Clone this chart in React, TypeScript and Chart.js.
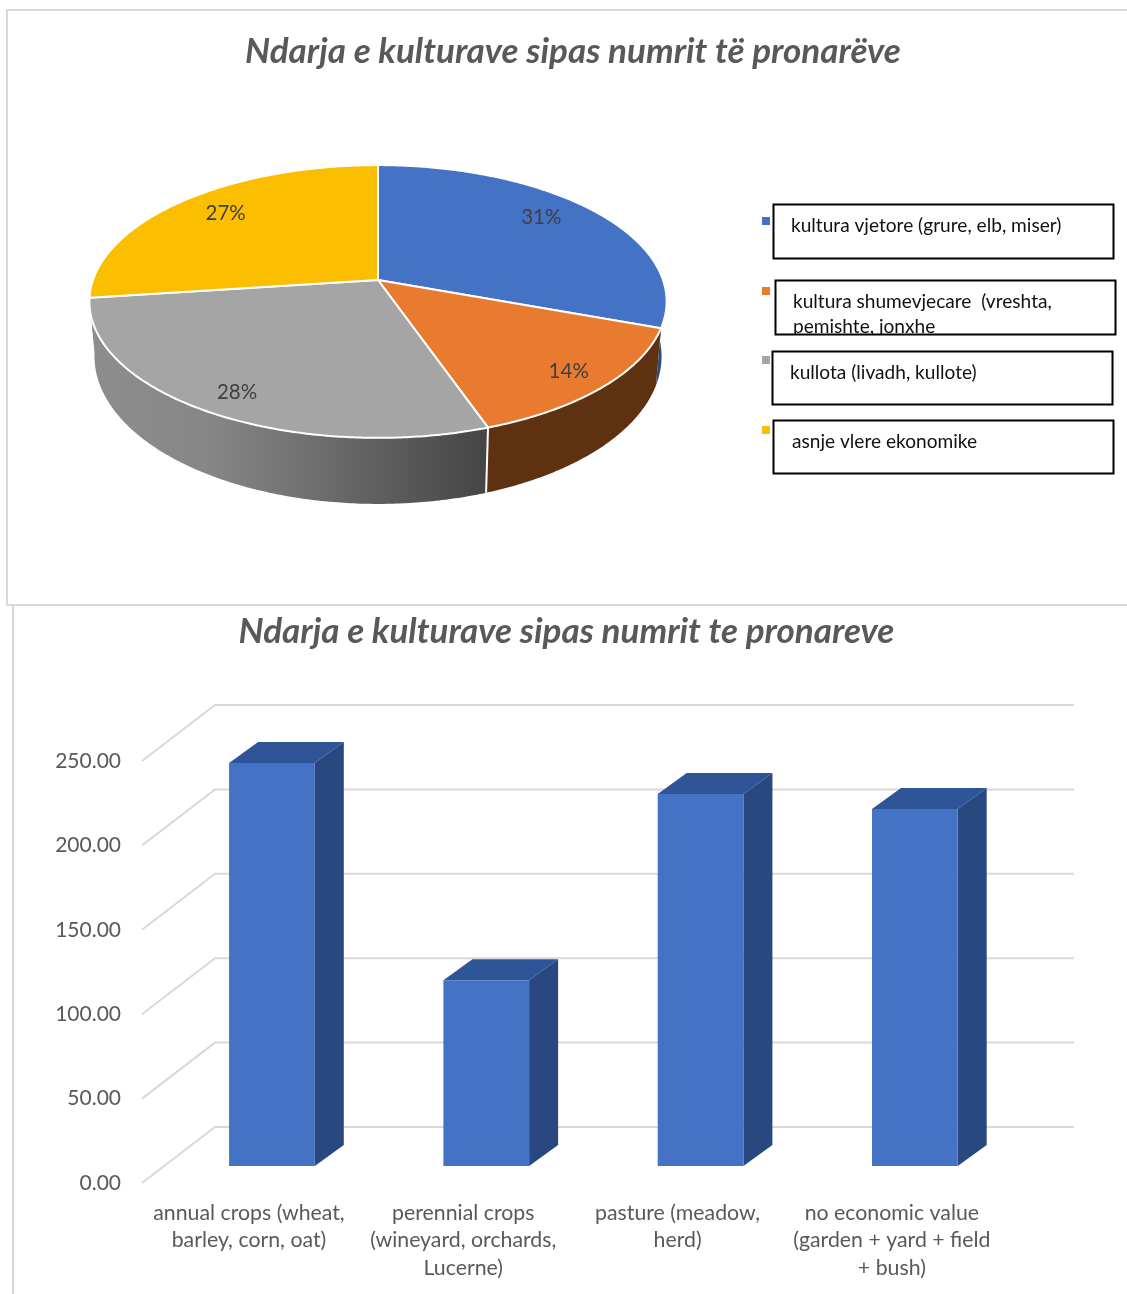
import React, { useEffect, useRef } from "react";
import { Chart, registerables } from "chart.js";

Chart.register(...registerables);

const pieTitle = "Ndarja e kulturave sipas numrit të pronarëve";
const barTitle = "Ndarja e kulturave sipas numrit te pronareve";

const pieLegendLines = [
  ["kultura vjetore (grure, elb, miser)"],
  ["kultura shumevjecare  (vreshta,", "pemishte, jonxhe"],
  ["kullota (livadh, kullote)"],
  ["asnje vlere ekonomike"],
];
const pieValues = [238.7, 110, 220.4, 211.5];
const pieColors = ["#4472c4", "#e97b30", "#a5a5a5", "#fcbe00"];
const pieWallColors = ["#2b4a82", "#5e3210", "#777777", "#8d8d8d"];

const barCategories = [
  ["annual crops (wheat,", "barley, corn, oat)"],
  ["perennial crops", "(wineyard, orchards,", "Lucerne)"],
  ["pasture (meadow,", "herd)"],
  ["no economic value", "(garden + yard + field", "+ bush)"],
];
const barValues = [238.7, 110, 220.4, 211.5];

const FONT = "Lato, Carlito, sans-serif";
const TEXT = "#595959";

// perspective of the pie
const P = { cx: 378, cy: 280, a: 285, b: 133, k: 0.1575, a2: 280, b2: 144, d: 53 };
const topPt = (t: number, f = 1) => {
  const u = -Math.cos(t) * f;
  const s = Math.sin(t) * f;
  const den = 1 - P.k * u;
  return [P.cx + (P.a * s) / den, P.cy + (P.b * u) / den];
};
const lowPt = (t: number) => {
  const u = -Math.cos(t);
  const s = Math.sin(t);
  const den = 1 - P.k * u;
  return [P.cx + (P.a2 * s) / den, P.cy + P.d + (P.b2 * u) / den];
};
const sweep = (a: number, b: number) => {
  const n = Math.max(4, Math.ceil((b - a) / 0.01));
  const r: number[] = [];
  for (let i = 0; i <= n; i++) r.push(a + ((b - a) * i) / n);
  return r;
};

const legendBoxes = [
  { x: 773.5, y: 204.5, w: 340, h: 54, tx: 791, ty: 226, sy: 221 },
  { x: 775.5, y: 280.5, w: 340, h: 54, tx: 793, ty: 302, sy: 291 },
  { x: 772.5, y: 351.5, w: 340, h: 53, tx: 790, ty: 373, sy: 360 },
  { x: 773.5, y: 420.5, w: 340, h: 53, tx: 792, ty: 442, sy: 430 },
];
const labelNudge = [
  [-11, -6],
  [15, 8],
  [-7, 11],
  [6, -2],
];

const pie3d = {
  id: "pie3d",
  beforeDatasetDraw(chart: any) {
    const { ctx } = chart;
    const arcs = chart.getDatasetMeta(0).data;
    const angles = arcs.map((e: any) => [e.startAngle + Math.PI / 2, e.endAngle + Math.PI / 2]);
    ctx.save();
    // side wall
    angles.forEach(([s, e]: number[], i: number) => {
      ctx.beginPath();
      sweep(s, e).forEach((t, j) => {
        const [x, y] = topPt(t);
        j ? ctx.lineTo(x, y) : ctx.moveTo(x, y);
      });
      sweep(s, e)
        .reverse()
        .forEach((t) => {
          const [x, y] = lowPt(t);
          ctx.lineTo(x, y);
        });
      ctx.closePath();
      if (i === 2) {
        const g = ctx.createLinearGradient(96, 0, 486, 0);
        g.addColorStop(0, "#8d8d8d");
        g.addColorStop(0.3, "#868686");
        g.addColorStop(0.65, "#666666");
        g.addColorStop(1, "#454545");
        ctx.fillStyle = g;
      } else {
        ctx.fillStyle = pieWallColors[i];
      }
      ctx.fill();
    });
    // seams on the front of the wall
    ctx.strokeStyle = "#ffffff";
    ctx.lineWidth = 2;
    angles.forEach(([s]: number[], i: number) => {
      if (i !== 2) return;
      const [x1, y1] = topPt(s);
      const [x2, y2] = lowPt(s);
      ctx.beginPath();
      ctx.moveTo(x1, y1);
      ctx.lineTo(x2, y2);
      ctx.stroke();
    });
    // top face
    ctx.lineJoin = "round";
    angles.forEach(([s, e]: number[], i: number) => {
      ctx.beginPath();
      ctx.moveTo(P.cx, P.cy);
      sweep(s, e).forEach((t) => {
        const [x, y] = topPt(t);
        ctx.lineTo(x, y);
      });
      ctx.closePath();
      ctx.fillStyle = pieColors[i];
      ctx.fill();
      ctx.stroke();
    });
    // value labels
    const total = chart.data.datasets[0].data.reduce((a: number, b: number) => a + b, 0);
    ctx.font = `20.5px ${FONT}`;
    ctx.fillStyle = "#404040";
    ctx.textAlign = "center";
    ctx.textBaseline = "middle";
    angles.forEach(([s, e]: number[], i: number) => {
      const [x, y] = topPt((s + e) / 2, 0.8);
      const v = Math.round((chart.data.datasets[0].data[i] / total) * 100);
      ctx.fillText(`${v}%`, x + labelNudge[i][0], y + labelNudge[i][1]);
    });
    ctx.restore();
    return false;
  },
  afterDraw(chart: any) {
    const { ctx } = chart;
    ctx.save();
    legendBoxes.forEach((b, i) => {
      ctx.fillStyle = pieColors[i];
      ctx.fillRect(762, b.sy - 4, 8, 8);
      ctx.save();
      ctx.beginPath();
      ctx.rect(b.x, b.y, b.w, b.h);
      ctx.clip();
      ctx.font = `19.1px ${FONT}`;
      ctx.fillStyle = "#111111";
      ctx.textAlign = "left";
      ctx.textBaseline = "middle";
      chart.data.labels[i].forEach((line: string, j: number) => {
        ctx.fillText(line, b.tx, b.ty + j * 25);
      });
      ctx.restore();
      ctx.strokeStyle = "#000000";
      ctx.lineWidth = 2;
      ctx.strokeRect(b.x, b.y, b.w, b.h);
    });
    ctx.restore();
  },
};

const DEPTH = { dx: 29, dy: -21, frontX: 142, backX: 215, frontDy: 17, backDy: -39, endX: 1074 };

const bar3d = {
  id: "bar3d",
  beforeDatasetsDraw(chart: any) {
    const { ctx } = chart;
    const y = chart.scales.y;
    ctx.save();
    ctx.strokeStyle = "#d9d9d9";
    ctx.lineWidth = 2;
    y.ticks.forEach((t: any) => {
      const py = y.getPixelForValue(t.value);
      ctx.beginPath();
      ctx.moveTo(DEPTH.frontX, py + DEPTH.frontDy);
      ctx.lineTo(DEPTH.backX, py + DEPTH.backDy);
      ctx.lineTo(DEPTH.endX, py + DEPTH.backDy);
      ctx.stroke();
    });
    chart.getDatasetMeta(0).data.forEach((b: any) => {
      const l = b.x - b.width / 2;
      const r = b.x + b.width / 2;
      ctx.fillStyle = "#2e5597";
      ctx.beginPath();
      ctx.moveTo(l, b.y);
      ctx.lineTo(l + DEPTH.dx, b.y + DEPTH.dy);
      ctx.lineTo(r + DEPTH.dx, b.y + DEPTH.dy);
      ctx.lineTo(r, b.y);
      ctx.closePath();
      ctx.fill();
      ctx.fillStyle = "#29487f";
      ctx.beginPath();
      ctx.moveTo(r, b.y);
      ctx.lineTo(r + DEPTH.dx, b.y + DEPTH.dy);
      ctx.lineTo(r + DEPTH.dx, b.base + DEPTH.dy);
      ctx.lineTo(r, b.base);
      ctx.closePath();
      ctx.fill();
    });
    ctx.restore();
  },
};

export default function App() {
  const pieRef = useRef<HTMLCanvasElement>(null);
  const barRef = useRef<HTMLCanvasElement>(null);

  useEffect(() => {
    const pie = new Chart(pieRef.current!, {
      type: "pie",
      plugins: [pie3d],
      data: {
        labels: pieLegendLines as any,
        datasets: [{ data: pieValues, backgroundColor: pieColors }],
      },
      options: {
        animation: false,
        responsive: false,
        devicePixelRatio: 1,
        events: [],
        layout: { padding: { left: 19, right: 0 } },
        plugins: {
          legend: { display: false },
          tooltip: { enabled: false },
          title: {
            display: true,
            text: pieTitle,
            color: TEXT,
            font: { family: FONT, size: 35, weight: "bold", style: "italic", lineHeight: 1.2 },
            padding: { top: 31, bottom: 20 },
          },
        },
      },
    } as any);

    const bar = new Chart(barRef.current!, {
      type: "bar",
      plugins: [bar3d],
      data: {
        labels: barCategories as any,
        datasets: [
          {
            data: barValues,
            backgroundColor: "#4472c4",
            barPercentage: 0.4,
            categoryPercentage: 1,
          },
        ],
      },
      options: {
        animation: false,
        responsive: false,
        devicePixelRatio: 1,
        events: [],
        layout: { padding: { left: 6, right: 0, top: 0, bottom: 0 } },
        plugins: {
          legend: { display: false },
          tooltip: { enabled: false },
          title: {
            display: true,
            text: barTitle,
            color: TEXT,
            font: { family: FONT, size: 35, weight: "bold", style: "italic", lineHeight: 1.2 },
            padding: { top: 7, bottom: 91 },
          },
        },
        scales: {
          y: {
            min: 0,
            max: 250,
            afterFit: (s: any) => {
              s.width = 158.8;
            },
            grid: { display: false, drawTicks: false },
            border: { display: false },
            ticks: {
              stepSize: 50,
              padding: 43.8,
              labelOffset: 17,
              color: TEXT,
              font: { family: FONT, size: 21 },
              callback: (v: any) => Number(v).toFixed(2),
            },
          },
          rightGutter: {
            type: "linear",
            position: "right",
            display: true,
            afterFit: (s: any) => {
              s.width = 105;
            },
            grid: { display: false, drawTicks: false },
            border: { display: false },
            ticks: { display: false },
          },
          x: {
            afterFit: (s: any) => {
              s.height = 128;
            },
            grid: { display: false, drawTicks: false },
            border: { display: false },
            ticks: {
              autoSkip: false,
              maxRotation: 0,
              minRotation: 0,
              padding: 33,
              labelOffset: -23,
              color: TEXT,
              font: { family: FONT, size: 21.3, lineHeight: 1.29 },
            },
          },
        },
      },
    } as any);

    return () => {
      pie.destroy();
      bar.destroy();
    };
  }, []);

  return (
    <div style={{ position: "absolute", left: 0, top: 0, width: 1127, height: 1294, overflow: "hidden", background: "#fff" }}>
      <div style={{ position: "absolute", left: 6, top: 9, width: 1130, height: 593, border: "2px solid #d9d9d9", boxSizing: "content-box" }} />
      <div style={{ position: "absolute", left: 12, top: 604, width: 2, height: 690, background: "#d9d9d9" }} />
      <canvas ref={pieRef} width={1127} height={604} style={{ position: "absolute", left: 0, top: 0 }} />
      <canvas ref={barRef} width={1127} height={690} style={{ position: "absolute", left: 0, top: 604 }} />
    </div>
  );
}
